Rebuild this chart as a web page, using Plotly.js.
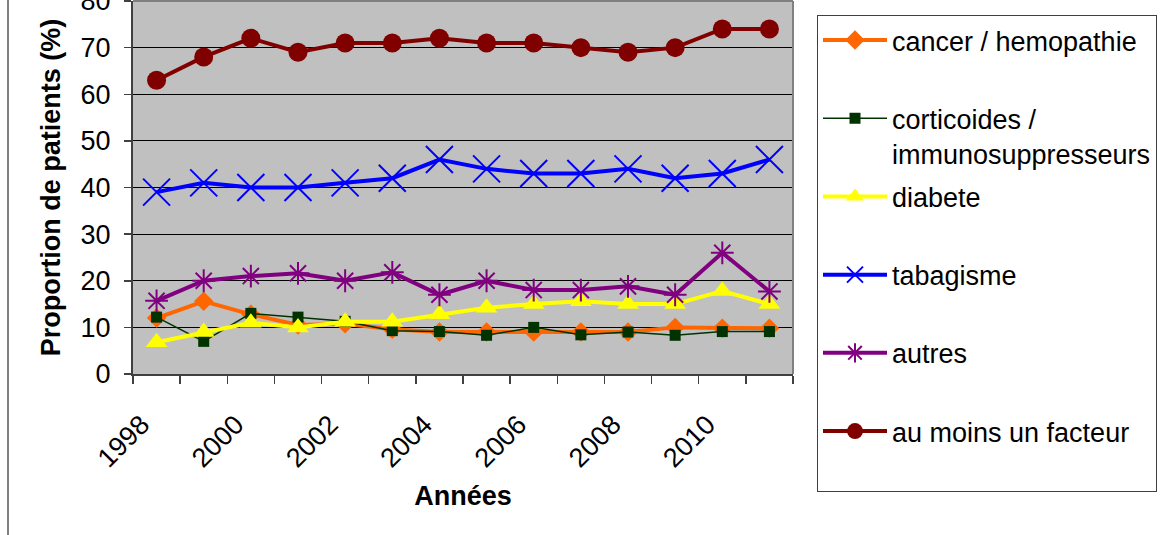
<!DOCTYPE html>
<html>
<head>
<meta charset="utf-8">
<script src="https://cdn.plot.ly/plotly-3.0.1.min.js"></script>
<style>
html,body{margin:0;padding:0;background:#fff;}
#chart{width:1161px;height:535px;}
</style>
</head>
<body>
<div id="chart"></div>
<script>
const years = ["1998","1999","2000","2001","2002","2003","2004","2005","2006","2007","2008","2009","2010","2011"];
const yearLabels = ["1998","","2000","","2002","","2004","","2006","","2008","","2010",""];
const seriesNames = ["cancer / hemopathie","corticoides /<br>immunosuppresseurs","diabete","tabagisme","autres","au moins un facteur"];
const cancer = [12, 15.6, 12.8, 10.5, 10.8, 9.6, 9, 9, 9, 9, 9, 10, 9.8, 9.8];
const corticoides = [12.2, 7, 13, 12.2, 11.3, 9.3, 9.1, 8.3, 10, 8.4, 9, 8.3, 9.1, 9.1];
const diabete = [6.8, 9, 11, 10, 11.2, 11.2, 12.8, 14.2, 15, 15.6, 15, 15, 17.8, 15];
const tabagisme = [39, 41, 40, 40, 41, 42, 46, 44, 43, 43, 44, 42, 43, 46];
const autres = [15.7, 20, 21, 21.6, 20, 21.8, 17, 20, 18, 18, 18.8, 17, 26, 17.7];
const auMoins = [63, 68, 72, 69, 71, 71, 72, 71, 71, 70, 69, 70, 74, 74];
const yTicks = [0,10,20,30,40,50,60,70,80];

const FONT = "Liberation Sans, Arial, sans-serif";
function nm(i){ return seriesNames[i].indexOf("<br>")>=0 ? seriesNames[i] : seriesNames[i] + "<br> "; }

const traces = [
  {y: cancer, name: nm(0), line:{color:"#FF6600", width:4}, marker:{symbol:"diamond", size:15, color:"#FF6600"}},
  {y: corticoides, name: nm(1), line:{color:"#003300", width:1.5}, marker:{symbol:"square", size:11, color:"#003300"}},
  {y: diabete, name: nm(2), line:{color:"#FFFF00", width:4}, marker:{symbol:"triangle-up", size:19, color:"#FFFF00"}},
  {y: tabagisme, name: nm(3), line:{color:"#0000FF", width:4}, marker:{symbol:"x-thin-open", size:27, color:"#0000FF", line:{color:"#0000FF", width:2}}},
  {y: autres, name: nm(4), line:{color:"#800080", width:4}, marker:{symbol:"asterisk-open", size:19, color:"#800080", line:{color:"#800080", width:2}}},
  {y: auMoins, name: nm(5), line:{color:"#800000", width:4}, marker:{symbol:"circle", size:19, color:"#800000"}}
].map((t,i)=>Object.assign({x: years, type:"scatter", mode:"lines+markers", legendgroup:"g"+i}, t));

const L=133, R=368, T=1, B=161, W=1161, H=535;
const pw = W-L-R, ph = H-T-B;
const px = x => (x-L)/pw;
const py = y => (H-B-y)/ph;

const layout = {
  width: W, height: H,
  margin: {l:L, r:R, t:T, b:B, pad:0},
  paper_bgcolor: "#FFFFFF",
  plot_bgcolor: "#C0C0C0",
  font: {family: FONT, size: 27, color: "#000"},
  showlegend: true,
  xaxis: {
    type: "category",
    tickmode: "array",
    tickvals: years,
    ticktext: yearLabels,
    tickson: "boundaries",
    ticks: "outside", ticklen: 8, tickwidth: 1.5, tickcolor: "#404040",
    tickangle: -45,
    tickfont: {family: FONT, size: 27, color: "#000"},
    ticklabelstandoff: 22,
    ticklabelshift: -15,
    ticklabeloverflow: "allow",
    showgrid: false,
    showline: true, linecolor: "#404040", linewidth: 2,
    zeroline: false,
    range: [-0.5, 13.5],
    title: {text: "<b>Années</b>", font: {family: FONT, size: 27, color:"#000"}, standoff: 14}
  },
  yaxis: {
    range: [0, 80],
    tickmode: "array", tickvals: yTicks,
    ticks: "outside", ticklen: 7, tickwidth: 1.5, tickcolor: "#404040",
    tickfont: {family: FONT, size: 27, color: "#000"},
    ticklabelstandoff: 8,
    ticklabeloverflow: "allow",
    showgrid: true, gridcolor: "#000000", gridwidth: 1,
    showline: true, linecolor: "#404040", linewidth: 2,
    zeroline: false,
    title: {text: "<b>Proportion de patients (%)</b>", font: {family: FONT, size: 27, color:"#000"}, standoff: 12}
  },
  legend: {
    x: px(817), y: py(15), xanchor: "left", yanchor: "top",
    bgcolor: "#FFFFFF", bordercolor: "#404040", borderwidth: 1,
    font: {family: FONT, size: 27, color: "#000"},
    traceorder: "grouped", tracegroupgap: 5, valign: "top",
    itemwidth: 64, maxheight: 600
  },
  shapes: [
    {type:"line", xref:"paper", yref:"paper", x0:0, x1:1, y0:1, y1:1, line:{color:"#808080", width:2}},
    {type:"line", xref:"paper", yref:"paper", x0:1, x1:1, y0:0, y1:1, line:{color:"#808080", width:2}},
    {type:"line", xref:"paper", yref:"paper", x0:px(8), x1:px(8), y0:py(540), y1:py(-5), line:{color:"#000000", width:1}}
  ]
};

Plotly.newPlot("chart", traces, layout, {displayModeBar:false, staticPlot:true});
</script>
</body>
</html>
